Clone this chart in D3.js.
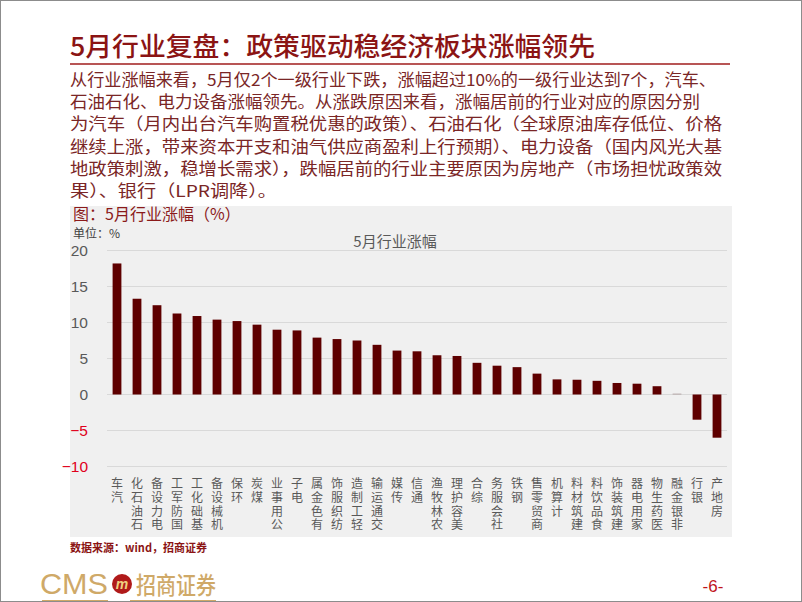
<!DOCTYPE html>
<html><head><meta charset="utf-8">
<script src="https://cdn.jsdelivr.net/npm/d3@7"></script>
<style>body{margin:0;background:#fff}svg{display:block}</style>
</head><body>
<script>
const categories = ["汽车","石油石化","电力设备","国防军工","基础化工","机械设备","环保","煤炭","公用事业","电子","有色金属","纺织服饰","轻工制造","交通运输","传媒","通信","农林牧渔","美容护理","综合","社会服务","钢铁","商贸零售","计算机","建筑材料","食品饮料","建筑装饰","家用电器","医药生物","非银金融","银行","房地产"];
const values = [18.2,13.3,12.4,11.25,10.9,10.4,10.2,9.7,9.0,8.9,7.9,7.7,7.5,6.9,6.1,6.0,5.45,5.35,4.4,4.0,3.8,2.9,2.1,2.05,1.9,1.6,1.5,1.15,0.12,-3.5,-6.0];
const yTicks = [20,15,10,5,0,-5,-10];
const pageTitle = "5月行业复盘：政策驱动稳经济板块涨幅领先";
const paragraph = [
 "从行业涨幅来看，5月仅2个一级行业下跌，涨幅超过10%的一级行业达到7个，汽车、",
 "石油石化、电力设备涨幅领先。从涨跌原因来看，涨幅居前的行业对应的原因分别",
 "为汽车（月内出台汽车购置税优惠的政策）、石油石化（全球原油库存低位、价格",
 "继续上涨，带来资本开支和油气供应商盈利上行预期）、电力设备（国内风光大基",
 "地政策刺激，稳增长需求），跌幅居前的行业主要原因为房地产（市场担忧政策效",
 "果）、银行（LPR调降）。"
];
const paraWidths = [646,630,652,652,652,207];
const figTitle = "图：5月行业涨幅（%）";
const unitLabel = "单位：%";
const chartTitle = "5月行业涨幅";
const sourceText = "数据来源：wind，招商证券";

const W=802,H=602;
const svg=d3.select("body").append("svg").attr("width",W).attr("height",H);
const cjk="'Noto Sans CJK SC','Noto Sans',sans-serif";

svg.append("rect").attr("x",0.5).attr("y",0.5).attr("width",W-1).attr("height",H-1).attr("fill","#fff").attr("stroke","#8c8c8c");

// page title
svg.append("text").attr("x",70).attr("y",56).attr("font-family",cjk).attr("font-size",26).attr("font-weight",500)
 .attr("fill","#8b1414").attr("textLength",525).attr("lengthAdjust","spacingAndGlyphs").text(pageTitle);
svg.append("line").attr("x1",70).attr("x2",730).attr("y1",64).attr("y2",64).attr("stroke","#a01c1c").attr("stroke-width",1.5);

// paragraph
svg.selectAll("text.para").data(paragraph).join("text").attr("class","para")
 .attr("x",70).attr("y",(d,i)=>86+i*22.2).attr("font-family",cjk).attr("font-size",16.5)
 .attr("fill","#7a2626").attr("textLength",(d,i)=>paraWidths[i]).attr("lengthAdjust","spacingAndGlyphs").text(d=>d);

// chart background
svg.append("rect").attr("x",70).attr("y",206).attr("width",662).attr("height",331).attr("fill","#f0f0f0");

svg.append("text").attr("x",73).attr("y",219.5).attr("font-family",cjk).attr("font-size",16).attr("fill","#8b1a1a").text(figTitle);
svg.append("text").attr("x",73).attr("y",238).attr("font-family",cjk).attr("font-size",12).attr("fill","#404040").text(unitLabel);
svg.append("text").attr("x",395).attr("y",247).attr("text-anchor","middle").attr("font-family",cjk).attr("font-size",15).attr("fill","#595959").text(chartTitle);

const y=d3.scaleLinear().domain([-10,20]).range([466.5,250.5]);
const x=d3.scaleBand().domain(categories).range([107,727]).paddingInner(0.56).paddingOuter(0.28);

// gridlines
svg.append("g").selectAll("line").data(yTicks).join("line")
 .attr("x1",107).attr("x2",727).attr("y1",d=>y(d)).attr("y2",d=>y(d))
 .attr("stroke","#d9d9d9").attr("stroke-width",1);

// y axis labels
const yAxis=svg.append("g").attr("transform","translate(88,0)")
 .call(d3.axisLeft(y).tickValues(yTicks).tickSize(0).tickPadding(0).tickFormat(d3.format("d")));
yAxis.select(".domain").remove();
yAxis.selectAll("text").attr("font-family","'Liberation Sans',Arial,sans-serif").attr("font-size",15.5)
 .attr("fill",d=>d<0?"#e0001b":"#595959");

// bars
svg.append("g").selectAll("rect").data(values).join("rect")
 .attr("x",(d,i)=>x(categories[i])).attr("width",x.bandwidth())
 .attr("y",d=>y(Math.max(0,d))).attr("height",d=>Math.abs(y(d)-y(0)))
 .attr("fill",d=>Math.abs(d)<0.3?"#b0a0a0":"#5e0000");

// category labels: text runs bottom-to-top, each glyph turned upright
const fs=12, step=13.6;
svg.append("g").selectAll("text").data(categories).join("text")
 .attr("transform",c=>{
   const n=Array.from(c).length;
   const cx=x(c)+x.bandwidth()/2-fs/2;
   const yb=488.5+(n-1)*step;
   return `translate(${cx},${yb}) rotate(-90)`;
 })
 .attr("x",0).attr("y",0).attr("rotate",90)
 .attr("letter-spacing",step-fs)
 .attr("font-family",cjk).attr("font-size",fs).attr("fill","#595959")
 .text(c=>c);

// source
svg.append("text").attr("x",70).attr("y",552).attr("font-family",cjk).attr("font-size",11).attr("font-weight",700)
 .attr("fill","#8b1414").text(sourceText);

// footer logo
const gold="#cfa968";
svg.append("text").attr("x",40).attr("y",594).attr("font-family","'Liberation Sans Narrow','Liberation Sans',sans-serif").attr("font-size",30)
 .attr("fill",gold).attr("textLength",68).attr("lengthAdjust","spacingAndGlyphs").text("CMS");
svg.append("circle").attr("cx",122).attr("cy",584).attr("r",10).attr("fill","#b01a1a");
svg.append("text").attr("x",122).attr("y",589).attr("text-anchor","middle").attr("font-family","'Liberation Sans',sans-serif").attr("font-size",14).attr("font-weight",700).attr("font-style","italic").attr("fill","#f0d080").text("m");
svg.append("text").attr("x",136).attr("y",594).attr("font-family",cjk).attr("font-size",24).attr("font-weight",500)
 .attr("fill",gold).attr("textLength",80).attr("lengthAdjust","spacingAndGlyphs").text("招商证券");
svg.append("line").attr("x1",42).attr("x2",108).attr("y1",600.5).attr("y2",600.5).attr("stroke",gold);
svg.append("line").attr("x1",130).attr("x2",216).attr("y1",600.5).attr("y2",600.5).attr("stroke",gold);
svg.append("text").attr("x",713).attr("y",592).attr("text-anchor","middle").attr("font-family","'Liberation Sans',sans-serif").attr("font-size",17).attr("fill","#c0141b").text("-6-");
</script>
</body></html>
